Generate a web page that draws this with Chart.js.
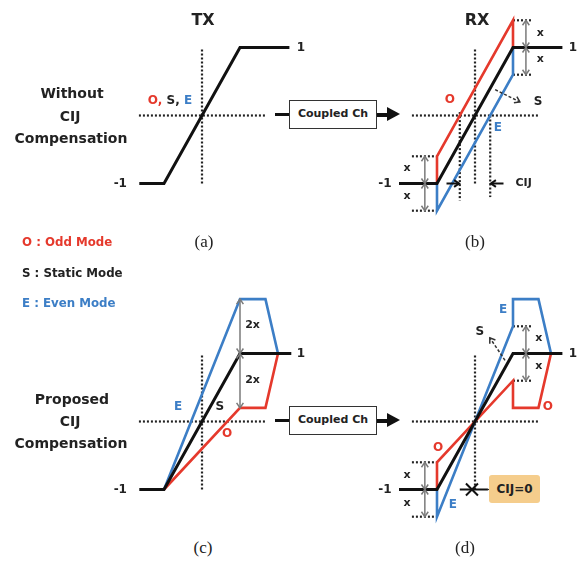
<!DOCTYPE html>
<html>
<head>
<meta charset="utf-8">
<script src="https://cdn.jsdelivr.net/npm/chart.js@4.4.1/dist/chart.umd.min.js"></script>
<style>
body { margin: 0; background: #fff; }
#page { position: relative; width: 584px; height: 561px; overflow: hidden; background: #fff;
  font-family: "DejaVu Sans", sans-serif; font-weight: bold; color: #222; }
canvas { position: absolute; }
.t { position: absolute; white-space: nowrap; transform: translate(-50%, -50%); line-height: 1; }
.side { font-size: 14px; }
.legend { position: absolute; font-size: 11.8px; white-space: nowrap; transform: translateY(-50%); }
.cap { font-family: "Liberation Serif", serif; font-weight: normal; font-size: 17px; }
.box { position: absolute; left: 289px; width: 88px; height: 29px; box-sizing: border-box;
  border: 1.5px solid #333; background: #fff; font-size: 11px; text-align: center; line-height: 26px; }
.stub { position: absolute; left: 275px; width: 14px; height: 3px; background: #111; }
.shaft { position: absolute; left: 377px; width: 12px; height: 4px; background: #111; }
.head { position: absolute; left: 387px; width: 0; height: 0; border-left: 13px solid #111;
  border-top: 7.5px solid transparent; border-bottom: 7.5px solid transparent; }
.cij0 { position: absolute; left: 489px; top: 475px; width: 51px; height: 28px; background: #f5cd8c;
  border-radius: 3px; font-size: 12px; text-align: center; line-height: 28px; }
</style>
</head>
<body>
<div id="page">
  <canvas id="tx" width="240" height="240" style="left:100px;top:0px"></canvas>
  <canvas id="rx" width="254" height="240" style="left:330px;top:0px"></canvas>
  <canvas id="ptx" width="240" height="270" style="left:100px;top:260px"></canvas>
  <canvas id="prx" width="254" height="280" style="left:330px;top:260px"></canvas>

  <div class="t" style="left:203px;top:20px;font-size:16px">TX</div>
  <div class="t" style="left:477px;top:20px;font-size:16px">RX</div>

  <div class="t side" style="left:72px;top:93px">Without</div>
  <div class="t side" style="left:70px;top:116px">CIJ</div>
  <div class="t side" style="left:71px;top:138px">Compensation</div>
  <div class="t side" style="left:72px;top:399px">Proposed</div>
  <div class="t side" style="left:70px;top:421px">CIJ</div>
  <div class="t side" style="left:71px;top:443px">Compensation</div>

  <div class="t" style="left:170px;top:100px;font-size:12px"><span style="color:#e5392c">O,</span> S, <span style="color:#3c7ec6">E</span></div>

  <div class="legend" style="left:22px;top:242px;color:#e5392c">O : Odd Mode</div>
  <div class="legend" style="left:22px;top:273px;color:#222">S : Static Mode</div>
  <div class="legend" style="left:22px;top:303px;color:#3c7ec6">E : Even Mode</div>

  <div class="stub" style="top:113px"></div>
  <div class="box" style="top:100px">Coupled Ch</div>
  <div class="shaft" style="top:112.5px"></div>
  <div class="head" style="top:107px"></div>

  <div class="stub" style="top:419px"></div>
  <div class="box" style="top:406px">Coupled Ch</div>
  <div class="shaft" style="top:418.5px"></div>
  <div class="head" style="top:413px"></div>

  <div class="cij0">CIJ=0</div>

  <div class="t cap" style="left:204px;top:241px">(a)</div>
  <div class="t cap" style="left:475px;top:241px">(b)</div>
  <div class="t cap" style="left:203px;top:547px">(c)</div>
  <div class="t cap" style="left:465px;top:547px">(d)</div>
</div>
<script>
// time in edge units (ramp runs -1..1), level in signal units (-1..1)
const txTime = [-1.65, -1, 1, 2.3];
const txLevel = [-1, -1, 1, 1];

const rxTime = [-2, -1, 1, 2.3];
const rxStatic = [-1, -1, 1, 1];
const rxEdgeTime = [-1, -1, 1, 1];
const rxOdd = [-1, -0.6, 1.4, 1];
const rxEven = [-1, -1.4, 0.6, 1];

const ptxTime = [-1.65, -1, 1, 2.35];
const ptxStatic = [-1, -1, 1, 1];
const ptxEdgeTime = [-1, 1, 1.67, 2.0];
const ptxEven = [-1, 1.8, 1.8, 1];
const ptxOdd = [-1, 0.2, 0.2, 1];

const prxTime = [-2, -1, 1, 2.3];
const prxStatic = [-1, -1, 1, 1];
const prxEdgeTime = [-1, -1, 1, 1, 1.67, 2.0];
const prxEven = [-1, -1.4, 1.4, 1.8, 1.8, 1];
const prxOdd = [-1, -0.6, 0.6, 0.2, 0.2, 1];

// dotted guides
const axisHTime = [-1.66, 1.66], axisHLevel = [0, 0];
const axisVTime = [0, 0], axisVLevel = [-1, 1];
const oddCrossTime = [-0.4, -0.4], oddCrossLevel = [0.05, -1.25];
const evenCrossTime = [0.4, 0.4], evenCrossLevel = [0, -1.2];
const topGuideTime = [1, 1.5], bottomGuideTime = [-1.66, -1];
const guideLevels = [1.4, 0.6, -0.6, -1.4];

const RED = '#e5392c', BLUE = '#3c7ec6', BLACK = '#111', GRAY = '#7a7a7a';
const xUnit = 38, yUnit = 68;

const pts = (xs, ys) => xs.map((x, i) => ({ x: x, y: ys[i] }));
const line = (xs, ys, color, w, order) => ({
    data: pts(xs, ys), borderColor: color, borderWidth: w, pointRadius: 0, tension: 0,
    fill: false, order: order, borderJoinStyle: 'miter', borderCapStyle: 'butt'
});
const dots = (xs, ys) => ({
    data: pts(xs, ys), borderColor: '#222', borderWidth: 2.2, borderDash: [2, 2],
    pointRadius: 0, fill: false, order: 9
});
const guide = (xs, level) => dots(xs, xs.map(() => level));

function marksPlugin(marks) {
    return {
        id: 'marks',
        afterDatasetsDraw(chart) {
            const ctx = chart.ctx;
            const px = v => chart.scales.x.getPixelForValue(v);
            const py = v => chart.scales.y.getPixelForValue(v);

            function head(x1, y1, x2, y2, size) {
                const a = Math.atan2(y2 - y1, x2 - x1);
                ctx.beginPath();
                ctx.moveTo(x2 - size * Math.cos(a - 0.6), y2 - size * Math.sin(a - 0.6));
                ctx.lineTo(x2, y2);
                ctx.lineTo(x2 - size * Math.cos(a + 0.6), y2 - size * Math.sin(a + 0.6));
                ctx.stroke();
            }

            ctx.save();
            // gray dimension arrows (both ends)
            ctx.strokeStyle = GRAY;
            ctx.lineWidth = 1.5;
            (marks.dims || []).forEach(d => {
                const x = px(d[0]), y1 = py(d[1]), y2 = py(d[2]);
                ctx.beginPath(); ctx.moveTo(x, y1); ctx.lineTo(x, y2); ctx.stroke();
                head(x, y2, x, y1, 6);
                head(x, y1, x, y2, 6);
            });
            // solid / dashed arrows
            (marks.arrows || []).forEach(a => {
                ctx.strokeStyle = a.color || BLACK;
                ctx.lineWidth = a.width || 2;
                ctx.setLineDash(a.dash || []);
                const x1 = px(a.from[0]), y1 = py(a.from[1]), x2 = px(a.to[0]), y2 = py(a.to[1]);
                ctx.beginPath(); ctx.moveTo(x1, y1); ctx.lineTo(x2, y2); ctx.stroke();
                ctx.setLineDash([]);
                head(x1, y1, x2, y2, a.head || 6);
            });
            // crosses
            ctx.strokeStyle = BLACK;
            ctx.lineWidth = 2;
            (marks.crosses || []).forEach(c => {
                const x = px(c[0]), y = py(c[1]);
                ctx.beginPath();
                ctx.moveTo(x - 6, y - 6); ctx.lineTo(x + 6, y + 6);
                ctx.moveTo(x - 6, y + 6); ctx.lineTo(x + 6, y - 6);
                ctx.stroke();
            });
            // labels
            ctx.textAlign = 'center';
            ctx.textBaseline = 'middle';
            (marks.labels || []).forEach(l => {
                ctx.fillStyle = l.color || '#222';
                ctx.font = 'bold ' + (l.size || 12) + 'px "DejaVu Sans", sans-serif';
                ctx.fillText(l.text, px(l.at[0]), py(l.at[1]));
            });
            ctx.restore();
        }
    };
}

function panel(id, rect, center, datasets, marks) {
    return new Chart(document.getElementById(id), {
        type: 'line',
        data: { datasets: datasets },
        options: {
            responsive: false,
            animation: false,
            events: [],
            layout: { padding: 0 },
            plugins: { legend: { display: false }, tooltip: { enabled: false } },
            scales: {
                x: { type: 'linear', display: false,
                     min: (rect[0] - center[0]) / xUnit, max: (rect[0] + rect[2] - center[0]) / xUnit },
                y: { type: 'linear', display: false,
                     min: (center[1] - rect[1] - rect[3]) / yUnit, max: (center[1] - rect[1]) / yUnit }
            }
        },
        plugins: [marksPlugin(marks)]
    });
}

// (a) TX without compensation
panel('tx', [100, 0, 240, 240], [202, 115.5], [
    dots(axisHTime, axisHLevel),
    dots(axisVTime, axisVLevel),
    line(txTime, txLevel, BLACK, 3, 1)
], {
    labels: [
        { text: '1', at: [2.6, 1] },
        { text: '-1', at: [-2.15, -1] }
    ]
});

// (b) RX without compensation
panel('rx', [330, 0, 254, 240], [475, 115.5], [
    dots(axisHTime, axisHLevel),
    dots(axisVTime, axisVLevel),
    dots(oddCrossTime, oddCrossLevel),
    dots(evenCrossTime, evenCrossLevel),
    guide(topGuideTime, guideLevels[0]),
    guide(topGuideTime, guideLevels[1]),
    guide(bottomGuideTime, guideLevels[2]),
    guide(bottomGuideTime, guideLevels[3]),
    line(rxEdgeTime, rxOdd, RED, 2.6, 2),
    line(rxEdgeTime, rxEven, BLUE, 2.6, 2),
    line(rxTime, rxStatic, BLACK, 3, 1)
], {
    dims: [[1.34, 1.4, 1], [1.34, 1, 0.6], [-1.32, -0.6, -1], [-1.32, -1, -1.4]],
    arrows: [
        { from: [-0.75, -1], to: [-0.42, -1] },
        { from: [0.75, -1], to: [0.42, -1] },
        { from: [0.53, 0.38], to: [1.18, 0.2], dash: [3, 2], width: 1.5, color: '#333' }
    ],
    labels: [
        { text: '1', at: [2.58, 1] },
        { text: '-1', at: [-2.37, -1] },
        { text: 'O', at: [-0.66, 0.23], color: RED },
        { text: 'E', at: [0.6, -0.18], color: BLUE },
        { text: 'S', at: [1.66, 0.2] },
        { text: 'x', at: [1.72, 1.21], size: 11 },
        { text: 'x', at: [1.72, 0.83], size: 11 },
        { text: 'x', at: [-1.79, -0.77], size: 11 },
        { text: 'x', at: [-1.79, -1.18], size: 11 },
        { text: 'CIJ', at: [1.28, -1], size: 11 }
    ]
});

// (c) TX with proposed compensation
panel('ptx', [100, 260, 240, 270], [202, 421.5], [
    dots(axisHTime, axisHLevel),
    dots(axisVTime, axisVLevel),
    line(ptxEdgeTime, ptxOdd, RED, 2.6, 2),
    line(ptxEdgeTime, ptxEven, BLUE, 2.6, 2),
    line(ptxTime, ptxStatic, BLACK, 3, 1)
], {
    dims: [[1, 1.8, 1], [1, 1, 0.2]],
    labels: [
        { text: '1', at: [2.6, 1] },
        { text: '-1', at: [-2.15, -1] },
        { text: 'E', at: [-0.63, 0.21], color: BLUE },
        { text: 'S', at: [0.47, 0.21] },
        { text: 'O', at: [0.66, -0.18], color: RED },
        { text: '2x', at: [1.33, 1.42], size: 11 },
        { text: '2x', at: [1.33, 0.61], size: 11 }
    ]
});

// (d) RX with proposed compensation
panel('prx', [330, 260, 254, 280], [475, 421.5], [
    dots(axisHTime, axisHLevel),
    dots(axisVTime, axisVLevel),
    guide(topGuideTime, guideLevels[0]),
    guide(topGuideTime, guideLevels[1]),
    guide(bottomGuideTime, guideLevels[2]),
    guide(bottomGuideTime, guideLevels[3]),
    line(prxEdgeTime, prxOdd, RED, 2.6, 2),
    line(prxEdgeTime, prxEven, BLUE, 2.6, 2),
    line(prxTime, prxStatic, BLACK, 3, 1)
], {
    dims: [[1.34, 1.4, 1], [1.34, 1, 0.6], [-1.32, -0.6, -1], [-1.32, -1, -1.4]],
    arrows: [
        { from: [-0.4, -1], to: [0.34, -1], head: 0.01 },
        { from: [0.79, 0.9], to: [0.39, 1.23], dash: [3, 2], width: 1.5, color: '#333' }
    ],
    crosses: [[-0.08, -1]],
    labels: [
        { text: '1', at: [2.58, 1] },
        { text: '-1', at: [-2.37, -1] },
        { text: 'E', at: [0.74, 1.64], color: BLUE },
        { text: 'O', at: [1.92, 0.21], color: RED },
        { text: 'O', at: [-0.97, -0.39], color: RED },
        { text: 'E', at: [-0.58, -1.23], color: BLUE },
        { text: 'S', at: [0.13, 1.32] },
        { text: 'x', at: [1.68, 1.23], size: 11 },
        { text: 'x', at: [1.68, 0.82], size: 11 },
        { text: 'x', at: [-1.79, -0.79], size: 11 },
        { text: 'x', at: [-1.79, -1.2], size: 11 }
    ]
});
</script>
</body>
</html>
